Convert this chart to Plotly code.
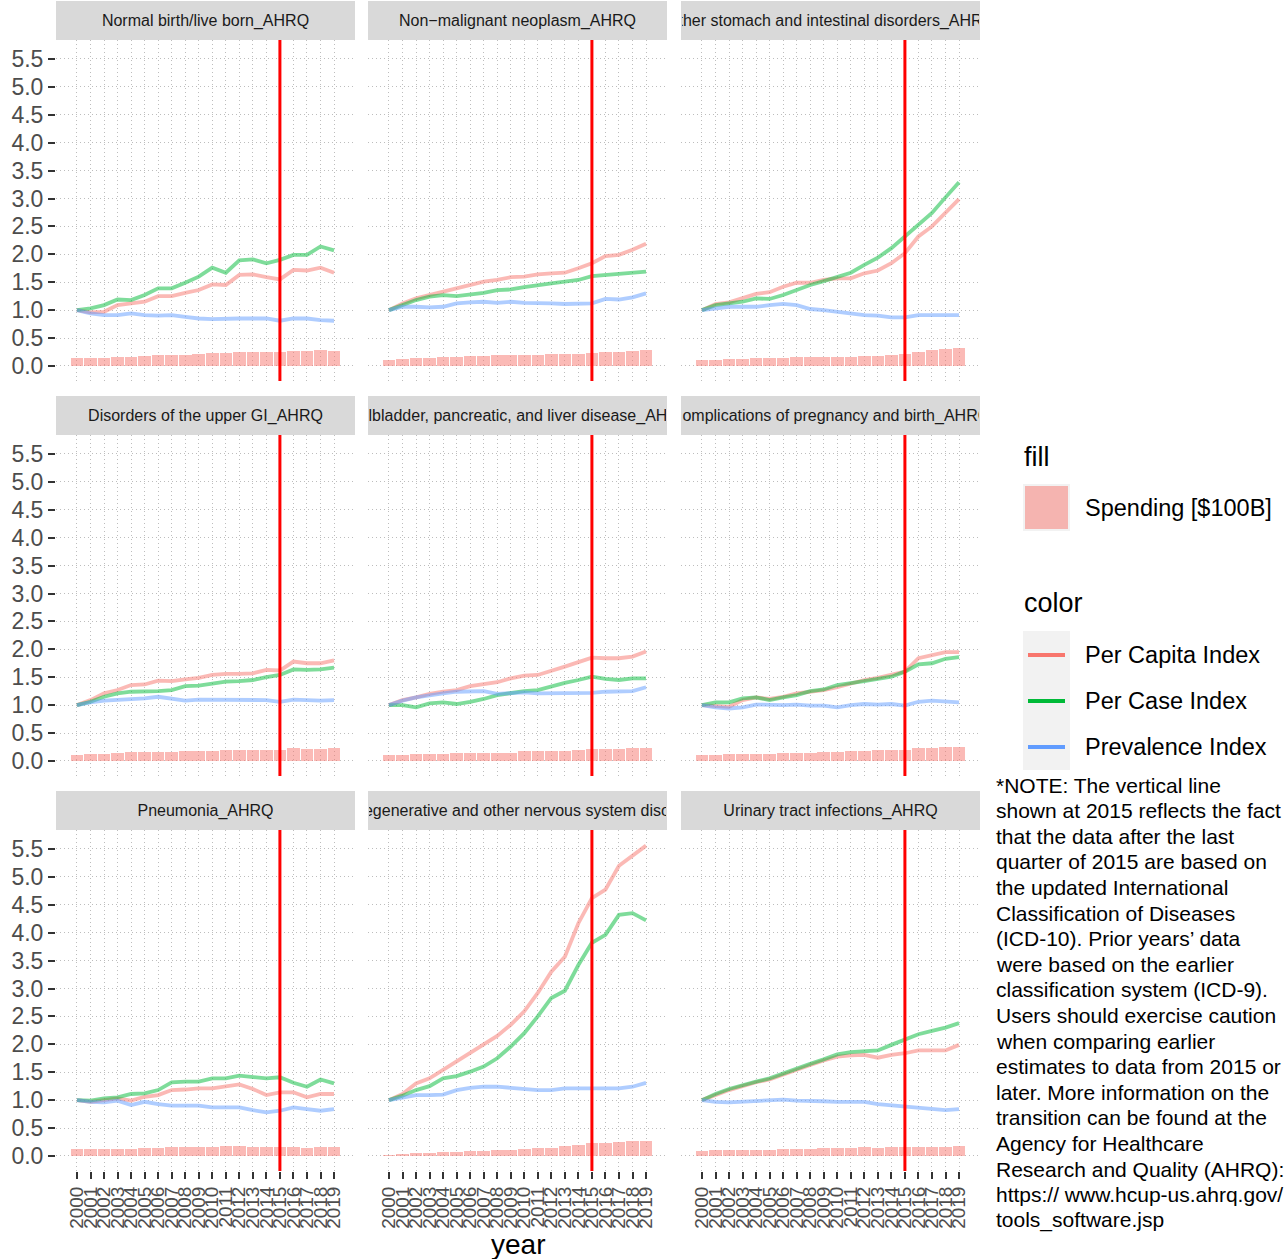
import plotly.graph_objects as go

# ---------------- data ----------------
years = list(range(2000, 2020))
year_labels = [str(y) for y in years]
y_tick_vals = [0, 0.5, 1, 1.5, 2, 2.5, 3, 3.5, 4, 4.5, 5, 5.5]
y_tick_labels = ["0.0", "0.5", "1.0", "1.5", "2.0", "2.5", "3.0", "3.5", "4.0", "4.5", "5.0", "5.5"]
icd_transition_year = 2015

panel_titles = [
    "Normal birth/live born_AHRQ",
    "Non\u2212malignant neoplasm_AHRQ",
    "Other stomach and intestinal disorders_AHRQ",
    "Disorders of the upper GI_AHRQ",
    "Gallbladder, pancreatic, and liver disease_AHRQ",
    "Complications of pregnancy and birth_AHRQ",
    "Pneumonia_AHRQ",
    "Hereditary, degenerative and other nervous system disorders_AHRQ",
    "Urinary tract infections_AHRQ",
]

series_names = ["Per Capita Index", "Per Case Index", "Prevalence Index"]
fill_name = "Spending [$100B]"

# Normal birth/live born
birth_capita = [1.0, 0.96, 0.97, 1.09, 1.12, 1.15, 1.25, 1.25, 1.31, 1.36, 1.46, 1.45, 1.63, 1.64, 1.59, 1.55, 1.72, 1.71, 1.76, 1.67]
birth_case = [1.0, 1.03, 1.09, 1.19, 1.18, 1.27, 1.39, 1.39, 1.49, 1.60, 1.76, 1.67, 1.89, 1.91, 1.84, 1.90, 1.99, 1.99, 2.14, 2.07]
birth_prev = [1.0, 0.94, 0.91, 0.91, 0.94, 0.91, 0.90, 0.91, 0.88, 0.85, 0.84, 0.85, 0.85, 0.85, 0.85, 0.81, 0.85, 0.85, 0.82, 0.81]
birth_spend = [0.14, 0.14, 0.14, 0.16, 0.16, 0.18, 0.20, 0.20, 0.20, 0.22, 0.23, 0.23, 0.25, 0.25, 0.25, 0.25, 0.27, 0.27, 0.29, 0.27]

# Non-malignant neoplasm
neo_capita = [1.0, 1.12, 1.21, 1.27, 1.33, 1.39, 1.45, 1.51, 1.54, 1.59, 1.60, 1.64, 1.66, 1.67, 1.75, 1.84, 1.97, 1.99, 2.08, 2.19]
neo_case = [1.0, 1.09, 1.18, 1.24, 1.27, 1.25, 1.28, 1.31, 1.36, 1.37, 1.41, 1.45, 1.48, 1.51, 1.54, 1.61, 1.63, 1.64, 1.67, 1.69]
neo_prev = [1.0, 1.06, 1.06, 1.05, 1.06, 1.12, 1.14, 1.15, 1.13, 1.15, 1.13, 1.13, 1.12, 1.11, 1.11, 1.12, 1.20, 1.19, 1.23, 1.30]
neo_spend = [0.11, 0.13, 0.14, 0.14, 0.16, 0.16, 0.18, 0.18, 0.20, 0.20, 0.20, 0.20, 0.22, 0.22, 0.22, 0.24, 0.25, 0.25, 0.27, 0.29]

# Other stomach and intestinal disorders
stomach_capita = [1.0, 1.11, 1.14, 1.22, 1.29, 1.32, 1.42, 1.49, 1.49, 1.54, 1.57, 1.57, 1.66, 1.71, 1.84, 2.02, 2.32, 2.50, 2.75, 2.99]
stomach_case = [1.0, 1.09, 1.12, 1.15, 1.21, 1.20, 1.27, 1.36, 1.45, 1.52, 1.59, 1.67, 1.81, 1.94, 2.11, 2.32, 2.51, 2.74, 3.02, 3.29]
stomach_prev = [1.0, 1.03, 1.06, 1.06, 1.06, 1.09, 1.11, 1.09, 1.02, 1.0, 0.97, 0.94, 0.91, 0.90, 0.87, 0.87, 0.91, 0.91, 0.91, 0.91]
stomach_spend = [0.11, 0.11, 0.12, 0.12, 0.14, 0.14, 0.14, 0.16, 0.16, 0.16, 0.16, 0.16, 0.17, 0.17, 0.20, 0.22, 0.25, 0.29, 0.30, 0.33]

# Disorders of the upper GI
upper_gi_capita = [1.0, 1.09, 1.21, 1.27, 1.36, 1.37, 1.44, 1.43, 1.46, 1.49, 1.54, 1.56, 1.56, 1.57, 1.63, 1.62, 1.78, 1.75, 1.75, 1.80]
upper_gi_case = [1.0, 1.06, 1.15, 1.21, 1.24, 1.24, 1.25, 1.27, 1.34, 1.35, 1.39, 1.42, 1.43, 1.45, 1.50, 1.54, 1.64, 1.63, 1.64, 1.67]
upper_gi_prev = [1.0, 1.05, 1.08, 1.09, 1.11, 1.12, 1.15, 1.12, 1.08, 1.10, 1.10, 1.09, 1.09, 1.09, 1.09, 1.06, 1.10, 1.09, 1.08, 1.09]
upper_gi_spend = [0.11, 0.12, 0.12, 0.14, 0.16, 0.16, 0.16, 0.16, 0.17, 0.17, 0.18, 0.20, 0.20, 0.20, 0.20, 0.20, 0.23, 0.22, 0.22, 0.23]

# Gallbladder, pancreatic, and liver disease
liver_capita = [1.0, 1.09, 1.14, 1.20, 1.24, 1.27, 1.34, 1.38, 1.41, 1.48, 1.53, 1.54, 1.61, 1.69, 1.77, 1.85, 1.84, 1.84, 1.87, 1.96]
liver_case = [1.0, 1.0, 0.96, 1.03, 1.05, 1.02, 1.06, 1.11, 1.18, 1.22, 1.25, 1.27, 1.34, 1.40, 1.45, 1.51, 1.47, 1.45, 1.48, 1.48]
liver_prev = [1.0, 1.08, 1.14, 1.18, 1.21, 1.24, 1.25, 1.25, 1.20, 1.22, 1.23, 1.21, 1.21, 1.21, 1.22, 1.22, 1.24, 1.25, 1.25, 1.32]
liver_spend = [0.10, 0.10, 0.12, 0.12, 0.12, 0.14, 0.14, 0.14, 0.15, 0.15, 0.17, 0.17, 0.17, 0.18, 0.19, 0.21, 0.21, 0.21, 0.23, 0.23]

# Complications of pregnancy and birth
preg_capita = [1.0, 0.99, 0.97, 1.09, 1.14, 1.11, 1.15, 1.21, 1.24, 1.27, 1.32, 1.38, 1.45, 1.49, 1.54, 1.60, 1.84, 1.89, 1.95, 1.95]
preg_case = [1.0, 1.05, 1.05, 1.12, 1.14, 1.09, 1.14, 1.18, 1.25, 1.28, 1.36, 1.39, 1.43, 1.47, 1.51, 1.60, 1.73, 1.75, 1.83, 1.86]
preg_prev = [1.0, 0.96, 0.94, 0.96, 1.01, 1.0, 1.0, 1.01, 0.99, 0.99, 0.96, 1.0, 1.02, 1.01, 1.02, 0.99, 1.06, 1.08, 1.06, 1.05]
preg_spend = [0.11, 0.11, 0.13, 0.13, 0.13, 0.13, 0.15, 0.15, 0.15, 0.16, 0.16, 0.18, 0.18, 0.19, 0.19, 0.20, 0.23, 0.23, 0.25, 0.25]

# Pneumonia
pneu_capita = [1.0, 0.97, 1.0, 1.03, 0.99, 1.06, 1.09, 1.18, 1.19, 1.21, 1.21, 1.24, 1.28, 1.20, 1.09, 1.14, 1.14, 1.05, 1.11, 1.11]
pneu_case = [1.0, 0.99, 1.03, 1.05, 1.11, 1.12, 1.18, 1.32, 1.33, 1.33, 1.39, 1.39, 1.44, 1.42, 1.39, 1.41, 1.31, 1.24, 1.37, 1.30]
pneu_prev = [1.0, 0.97, 0.96, 0.99, 0.91, 0.97, 0.93, 0.90, 0.90, 0.90, 0.87, 0.87, 0.87, 0.82, 0.78, 0.81, 0.87, 0.84, 0.81, 0.84]
pneu_spend = [0.13, 0.13, 0.13, 0.13, 0.13, 0.14, 0.14, 0.16, 0.16, 0.16, 0.16, 0.18, 0.18, 0.16, 0.16, 0.16, 0.16, 0.14, 0.16, 0.16]

# Hereditary, degenerative and other nervous system disorders
nerv_capita = [1.0, 1.11, 1.30, 1.39, 1.54, 1.69, 1.84, 1.99, 2.15, 2.35, 2.59, 2.92, 3.30, 3.57, 4.17, 4.62, 4.77, 5.20, 5.39, 5.56]
nerv_case = [1.0, 1.08, 1.18, 1.25, 1.39, 1.43, 1.51, 1.60, 1.75, 1.96, 2.20, 2.50, 2.83, 2.96, 3.42, 3.82, 3.96, 4.32, 4.35, 4.22]
nerv_prev = [1.0, 1.05, 1.09, 1.09, 1.10, 1.18, 1.22, 1.24, 1.24, 1.22, 1.20, 1.18, 1.18, 1.21, 1.21, 1.21, 1.21, 1.21, 1.24, 1.31]
nerv_spend = [0.02, 0.04, 0.05, 0.05, 0.07, 0.07, 0.08, 0.08, 0.10, 0.10, 0.12, 0.14, 0.15, 0.17, 0.19, 0.23, 0.23, 0.25, 0.26, 0.27]

# Urinary tract infections
uti_capita = [1.0, 1.09, 1.18, 1.25, 1.32, 1.37, 1.46, 1.55, 1.63, 1.71, 1.78, 1.80, 1.81, 1.76, 1.81, 1.84, 1.89, 1.89, 1.89, 1.99]
uti_case = [1.0, 1.11, 1.20, 1.27, 1.33, 1.39, 1.48, 1.57, 1.65, 1.73, 1.82, 1.86, 1.87, 1.89, 1.99, 2.09, 2.18, 2.24, 2.30, 2.38]
uti_prev = [1.0, 0.97, 0.96, 0.97, 0.99, 1.0, 1.01, 0.99, 0.99, 0.98, 0.97, 0.97, 0.97, 0.93, 0.91, 0.88, 0.87, 0.85, 0.82, 0.84]
uti_spend = [0.08, 0.10, 0.10, 0.10, 0.11, 0.11, 0.13, 0.13, 0.13, 0.14, 0.14, 0.14, 0.16, 0.14, 0.16, 0.16, 0.16, 0.16, 0.16, 0.18]

note_lines = [
    "*NOTE: The vertical line",
    "shown at 2015 reflects the fact",
    "that the data after the last",
    "quarter of 2015 are based on",
    "the updated International",
    "Classification of Diseases",
    "(ICD-10). Prior years\u2019 data",
    "were based on the earlier",
    "classification system (ICD-9).",
    "Users should exercise caution",
    "when comparing earlier",
    "estimates to data from 2015 or",
    "later. More information on the",
    "transition can be found at the",
    "Agency for Healthcare",
    "Research and Quality (AHRQ):",
    "https:// www.hcup-us.ahrq.gov/",
    "tools_software.jsp",
]

panels = [
    (birth_capita, birth_case, birth_prev, birth_spend),
    (neo_capita, neo_case, neo_prev, neo_spend),
    (stomach_capita, stomach_case, stomach_prev, stomach_spend),
    (upper_gi_capita, upper_gi_case, upper_gi_prev, upper_gi_spend),
    (liver_capita, liver_case, liver_prev, liver_spend),
    (preg_capita, preg_case, preg_prev, preg_spend),
    (pneu_capita, pneu_case, pneu_prev, pneu_spend),
    (nerv_capita, nerv_case, nerv_prev, nerv_spend),
    (uti_capita, uti_case, uti_prev, uti_spend),
]

# ---------------- styling / layout ----------------
W, H = 1286, 1259
FONT = "Liberation Sans, Arial, Helvetica, sans-serif"
line_colors = ["#F8766D", "#00BA38", "#619CFF"]
bar_color = "rgba(248,118,109,0.5)"

col_px = [(56, 355), (368, 667), (681, 980)]
row_plot_px = [(40, 381), (435, 776), (830, 1171)]
row_strip_px = [(1, 40), (396, 435), (791, 830)]


def fx(px):
    return px / W


def fy(py):
    return 1 - py / H


fig = go.Figure()
layout_axes = {}
shapes = []
annotations = []

for i, (capita, case, prev, spend) in enumerate(panels):
    r, c = divmod(i, 3)
    n = i + 1
    xa = "x" if n == 1 else f"x{n}"
    ya = "y" if n == 1 else f"y{n}"
    xkey = "xaxis" if n == 1 else f"xaxis{n}"
    ykey = "yaxis" if n == 1 else f"yaxis{n}"

    fig.add_trace(go.Bar(
        x=years, y=spend, width=0.93, name=fill_name,
        marker=dict(color=bar_color, line=dict(width=0)),
        xaxis=xa, yaxis=ya, showlegend=False,
    ))
    for vals, nm, col in zip((capita, case, prev), series_names, line_colors):
        fig.add_trace(go.Scatter(
            x=years, y=vals, mode="lines", name=nm,
            line=dict(color=col, width=3.8), opacity=0.5,
            xaxis=xa, yaxis=ya, showlegend=False,
        ))

    x0, x1 = col_px[c]
    y0, y1 = row_plot_px[r]
    layout_axes[xkey] = dict(
        domain=[fx(x0), fx(x1)], range=[1998.45, 2020.55], anchor=ya,
        tickmode="array", tickvals=years, ticktext=year_labels,
        showticklabels=(r == 2), ticks="outside" if r == 2 else "",
        ticklen=7, tickwidth=2, tickcolor="#333333", tickangle=-90,
        tickfont=dict(family=FONT, size=19, color="#4D4D4D"),
        showgrid=True, gridcolor="#BDBDBD", gridwidth=1, griddash="1px,3px",
        zeroline=False, showline=False, fixedrange=True,
    )
    layout_axes[ykey] = dict(
        domain=[fy(y1), fy(y0)], range=[-0.27, 5.84], anchor=xa,
        tickmode="array", tickvals=y_tick_vals, ticktext=y_tick_labels,
        showticklabels=(c == 0), ticks="outside" if c == 0 else "",
        ticklen=7, tickwidth=2, tickcolor="#333333",
        tickfont=dict(family=FONT, size=23, color="#4D4D4D"),
        showgrid=True, gridcolor="#BDBDBD", gridwidth=1, griddash="1px,3px",
        zeroline=False, showline=False, fixedrange=True,
    )

    # vertical ICD transition line
    shapes.append(dict(
        type="line", xref=xa, yref=f"{ya} domain",
        x0=icd_transition_year, x1=icd_transition_year, y0=0, y1=1,
        line=dict(color="#FF0000", width=3), layer="above",
    ))

    # strip
    s0, s1 = row_strip_px[r]
    shapes.append(dict(
        type="rect", xref="paper", yref="paper",
        x0=fx(x0), x1=fx(x1), y0=fy(s1), y1=fy(s0),
        fillcolor="#D9D9D9", line=dict(width=0), layer="below",
    ))
    annotations.append(dict(
        xref="paper", yref="paper", x=fx((x0 + x1) / 2), y=fy((s0 + s1) / 2 + 0.5),
        xanchor="center", yanchor="middle", text=panel_titles[i],
        showarrow=False, width=x1 - x0 - 2, align="center", borderpad=0,
        font=dict(family=FONT, size=16, color="#1A1A1A"),
    ))

# x-axis title
annotations.append(dict(
    xref="paper", yref="paper", x=fx(518), y=fy(1244),
    xanchor="center", yanchor="middle", text="year", showarrow=False,
    font=dict(family=FONT, size=28, color="#000000"),
))

# legend: fill
annotations.append(dict(
    xref="paper", yref="paper", x=fx(1022), y=fy(457),
    xanchor="left", yanchor="middle", text="fill", showarrow=False,
    font=dict(family=FONT, size=27, color="#000000"),
))
shapes.append(dict(type="rect", xref="paper", yref="paper",
                   x0=fx(1023), x1=fx(1070), y0=fy(531), y1=fy(484),
                   fillcolor="#F2F2F2", line=dict(width=0)))
shapes.append(dict(type="rect", xref="paper", yref="paper",
                   x0=fx(1025), x1=fx(1068), y0=fy(529), y1=fy(486),
                   fillcolor=bar_color, line=dict(width=0)))
annotations.append(dict(
    xref="paper", yref="paper", x=fx(1083), y=fy(508),
    xanchor="left", yanchor="middle", text=fill_name, showarrow=False,
    font=dict(family=FONT, size=23.5, color="#000000"),
))

# legend: color
annotations.append(dict(
    xref="paper", yref="paper", x=fx(1022), y=fy(603),
    xanchor="left", yanchor="middle", text="color", showarrow=False,
    font=dict(family=FONT, size=27, color="#000000"),
))
shapes.append(dict(type="rect", xref="paper", yref="paper",
                   x0=fx(1023), x1=fx(1070), y0=fy(770), y1=fy(631),
                   fillcolor="#F2F2F2", line=dict(width=0)))
for k, (nm, col) in enumerate(zip(series_names, line_colors)):
    yc = 655 + 46 * k
    shapes.append(dict(type="line", xref="paper", yref="paper",
                       x0=fx(1028), x1=fx(1065), y0=fy(yc), y1=fy(yc),
                       line=dict(color=col, width=4)))
    annotations.append(dict(
        xref="paper", yref="paper", x=fx(1083), y=fy(yc),
        xanchor="left", yanchor="middle", text=nm, showarrow=False,
        font=dict(family=FONT, size=23.5, color="#000000"),
    ))

# note
for k, line in enumerate(note_lines):
    annotations.append(dict(
        xref="paper", yref="paper", x=fx(994), y=fy(785 + 25.6 * k),
        xanchor="left", yanchor="middle", text=line, showarrow=False,
        font=dict(family=FONT, size=21, color="#000000"),
    ))

fig.update_layout(
    width=W, height=H, margin=dict(l=0, r=0, t=0, b=0),
    paper_bgcolor="white", plot_bgcolor="white",
    barmode="overlay", bargap=0, showlegend=False,
    shapes=shapes, annotations=annotations,
    font=dict(family=FONT),
    **layout_axes,
)

fig.write_html(
    "out.html",
    config={"displayModeBar": False},
    post_script="document.body.style.margin='0';document.body.style.padding='0';"
                "document.body.style.overflow='hidden';",
)
